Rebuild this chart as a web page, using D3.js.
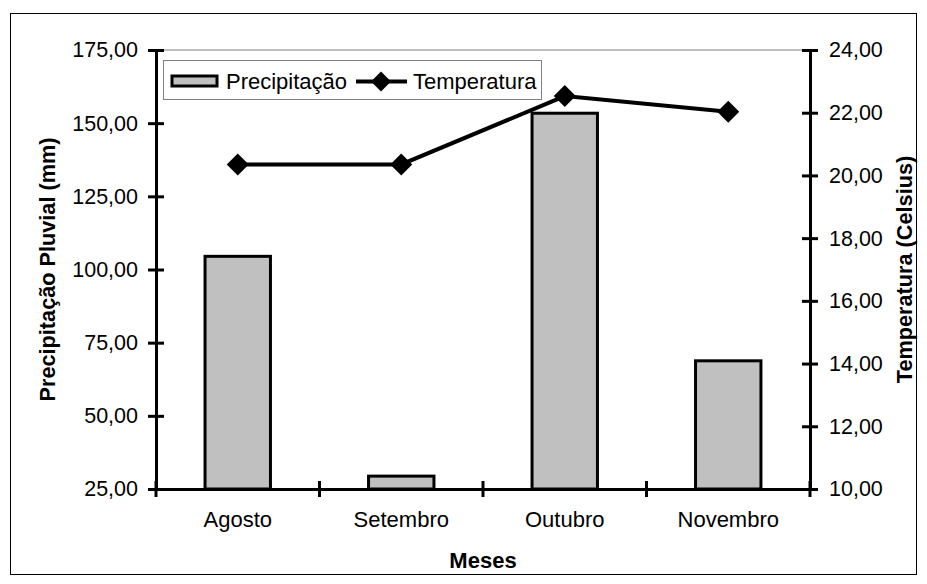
<!DOCTYPE html>
<html><head><meta charset="utf-8">
<script src="https://cdn.jsdelivr.net/npm/d3@7"></script>
<style>
body{margin:0;background:#fff;}
text{font-family:"Liberation Sans",Arial,sans-serif;fill:#000;}
</style></head>
<body><svg id="c" width="927" height="584"></svg>
<script>
const months = ["Agosto","Setembro","Outubro","Novembro"];
const precipitacao = [104.5, 29.4, 153.4, 68.8];
const temperatura = [20.35, 20.35, 22.53, 22.03];
const leftTicks = [25,50,75,100,125,150,175];
const rightTicks = [10,12,14,16,18,20,22,24];

const svg = d3.select("#c");
const L = 156, R = 810, T = 50, B = 489;
const fmt = v => d3.format(".2f")(v).replace(".", ",");

svg.append("rect").attr("x",10.5).attr("y",13.5).attr("width",906).attr("height",561)
  .attr("fill","none").attr("stroke","#000").attr("stroke-width",1);

const x = d3.scaleBand().domain(months).range([L,R]).paddingInner(0).paddingOuter(0);
const yL = d3.scaleLinear().domain([25,175]).range([B,T]);
const yR = d3.scaleLinear().domain([10,24]).range([B,T]);

// top plot border
svg.append("line").attr("x1",L).attr("x2",R).attr("y1",T).attr("y2",T).attr("stroke","#808080").attr("stroke-width",1);

// bars
const bw = x.bandwidth()*0.4;
svg.append("g").selectAll("rect").data(precipitacao).join("rect")
  .attr("x",(d,i)=>x(months[i])+x.bandwidth()/2-bw/2)
  .attr("y",d=>yL(d)).attr("width",bw).attr("height",d=>B-yL(d))
  .attr("fill","#c0c0c0").attr("stroke","#000").attr("stroke-width",3);

// axes
const gl = svg.append("g").attr("transform",`translate(${L},0)`)
  .call(d3.axisLeft(yL).tickValues(leftTicks).tickFormat(fmt).tickSize(8).tickPadding(10));
const gr = svg.append("g").attr("transform",`translate(${R},0)`)
  .call(d3.axisRight(yR).tickValues(rightTicks).tickFormat(fmt).tickSize(8).tickPadding(11));
const gx = svg.append("g").attr("transform",`translate(0,${B})`)
  .call(d3.axisBottom(x).tickSize(0).tickPadding(22));
[gl,gr,gx].forEach(g=>{
  g.select(".domain").attr("stroke","#000").attr("stroke-width",3);
  g.selectAll(".tick line").attr("stroke","#000").attr("stroke-width",3);
  g.selectAll("text").attr("font-size",21.5).attr("font-family","Liberation Sans, Arial, sans-serif");
});
gx.selectAll("text").attr("font-size",22);
gl.selectAll(".tick line").attr("x1",8);
gr.selectAll(".tick line").attr("x1",-8);
// category separator ticks
const sepTicks = [0,1,2,3,4].map(i=>L + i*x.step());
svg.append("g").selectAll("line").data(sepTicks).join("line")
  .attr("x1",d=>d).attr("x2",d=>d).attr("y1",B-8).attr("y2",B+8)
  .attr("stroke","#000").attr("stroke-width",3);

// line
const pts = temperatura.map((t,i)=>[x(months[i])+x.bandwidth()/2, yR(t)]);
svg.append("path").attr("d",d3.line()(pts)).attr("fill","none").attr("stroke","#000").attr("stroke-width",4);
const diamond = (cx,cy,r)=>`M${cx},${cy-r}L${cx+r},${cy}L${cx},${cy+r}L${cx-r},${cy}Z`;
svg.append("g").selectAll("path").data(pts).join("path")
  .attr("d",p=>diamond(p[0],p[1],11)).attr("fill","#000");

// titles
svg.append("text").attr("x",(L+R)/2).attr("y",568).attr("text-anchor","middle")
  .attr("font-size",22).attr("font-weight","bold").text("Meses");
svg.append("text").attr("transform",`translate(55,${(T+B)/2}) rotate(-90)`).attr("text-anchor","middle")
  .attr("font-size",21.7).attr("font-weight","bold").text("Precipitação Pluvial (mm)");
svg.append("text").attr("transform",`translate(912,${(T+B)/2}) rotate(-90)`).attr("text-anchor","middle")
  .attr("font-size",21.7).attr("font-weight","bold").text("Temperatura (Celsius)");

// legend
const lg = svg.append("g");
lg.append("rect").attr("x",163.5).attr("y",60.5).attr("width",378).attr("height",39)
  .attr("fill","#fff").attr("stroke","#808080").attr("stroke-width",1);
lg.append("rect").attr("x",172).attr("y",76).attr("width",45).attr("height",10)
  .attr("fill","#c0c0c0").attr("stroke","#000").attr("stroke-width",3);
lg.append("text").attr("x",226).attr("y",89).attr("font-size",22).text("Precipitação");
lg.append("line").attr("x1",356).attr("x2",407).attr("y1",81.5).attr("y2",81.5).attr("stroke","#000").attr("stroke-width",4);
lg.append("path").attr("d",diamond(381,81.5,10)).attr("fill","#000");
lg.append("text").attr("x",413).attr("y",89).attr("font-size",22).text("Temperatura");
</script></body></html>
